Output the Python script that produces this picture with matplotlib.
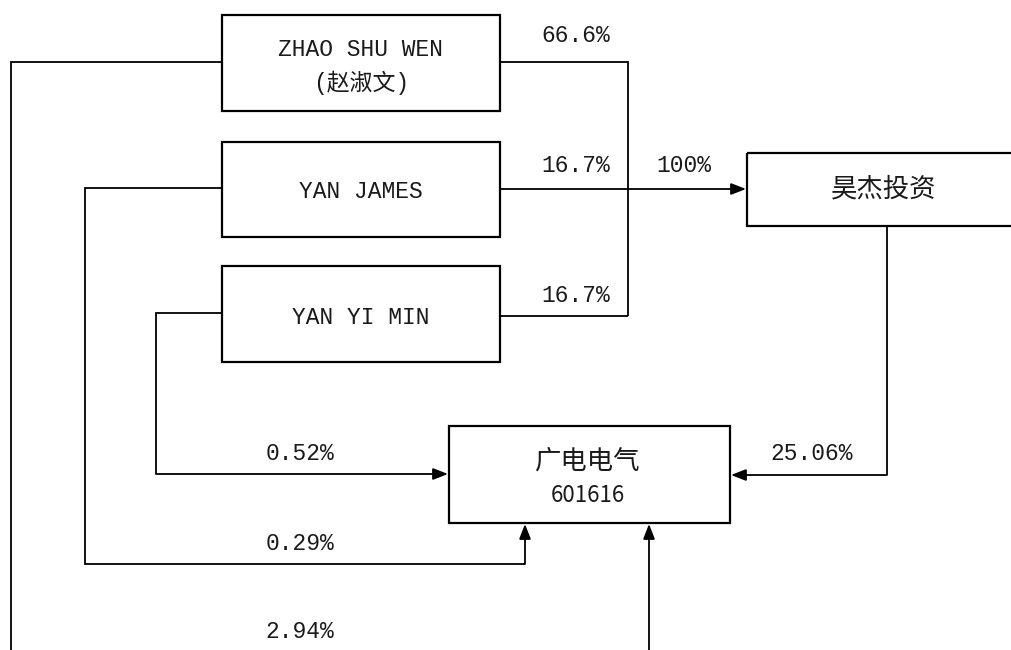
import matplotlib
matplotlib.use("Agg")
import matplotlib.pyplot as plt
from matplotlib.patches import Rectangle

# ---- data ----
shareholders = ["ZHAO SHU WEN\n(赵淑文)", "YAN JAMES", "YAN YI MIN"]
holding_company = "昊杰投资"
listed_company = "广电电气\n601616"
stake_in_holding = ["66.6%", "16.7%", "16.7%"]
holding_pct = "100%"
holding_in_listed = "25.06%"
direct_in_listed = ["2.94%", "0.29%", "0.52%"]

LAT = ["Liberation Mono", "Noto Sans CJK SC", "DejaVu Sans"]
CJK = ["Noto Sans CJK SC", "DejaVu Sans"]
TXT = "#1a1a1a"

fig = plt.figure(figsize=(10.12, 6.5), dpi=100)
ax = fig.add_axes([0, 0, 1, 1])
ax.set_xlim(0, 1012)
ax.set_ylim(650, 0)
ax.axis("off")

LW = 1.3

def box(x0, y0, x1, y1):
    ax.add_patch(Rectangle((x0, y0), x1 - x0, y1 - y0, fill=False,
                           edgecolor="black", linewidth=1.6, zorder=3))

def line(xs, ys):
    ax.plot(xs, ys, color="black", linewidth=LW, solid_joinstyle="miter",
            solid_capstyle="butt", zorder=2)

def arrow(x0, y0, x1, y1):
    ax.annotate("", xy=(x1, y1), xytext=(x0, y0),
                arrowprops=dict(arrowstyle="-|>,head_length=0.9,head_width=0.35",
                                color="black", lw=LW, shrinkA=0, shrinkB=0,
                                mutation_scale=10), zorder=4)

def label(x, y, s, size=16.5, fam=LAT, ha="center"):
    ax.text(x, y, s, ha=ha, va="center", fontsize=size, family=fam,
            color=TXT, zorder=5, linespacing=1.35)

# shareholder boxes
sh_boxes = [(222, 15, 500, 111), (222, 142, 500, 237), (222, 266, 500, 362)]
for (x0, y0, x1, y1) in sh_boxes:
    box(x0, y0, x1, y1)
name_lines = shareholders[0].split("\n")
label(361, 50, name_lines[0], size=16.5)
label(361, 83, name_lines[1], size=16.5)
label(361, 192, shareholders[1], size=16.5)
label(361, 318, shareholders[2], size=16.5)

# holding company box
box(747, 153, 1030, 226)
label(884, 189, holding_company, size=19, fam=CJK)

# listed company box
box(449, 426, 730, 523)
lc = listed_company.split("\n")
label(588, 461, lc[0], size=19, fam=CJK)
label(588, 495, lc[1], size=16, fam=CJK)

# lines shareholders -> holding company
line([500, 628, 628], [62, 62, 316])
line([500, 628], [316, 316])
arrow(500, 189, 746, 189)

label(576, 36, stake_in_holding[0])
label(576, 166, stake_in_holding[1])
label(576, 295, stake_in_holding[2])
label(684, 166, holding_pct)

# holding -> listed
line([887, 887], [226, 475])
arrow(887, 475, 731, 475)
label(812, 453, holding_in_listed)

# direct holdings
# ZHAO
line([222, 11, 11], [62, 62, 650])
label(300, 632, direct_in_listed[0])
arrow(649, 650, 649, 524)
# YAN JAMES
line([222, 85, 85, 525], [188, 188, 564, 564])
arrow(525, 564, 525, 524)
label(300, 543, direct_in_listed[1])
# YAN YI MIN
line([222, 156, 156], [313, 313, 474])
arrow(156, 474, 448, 474)
label(300, 453, direct_in_listed[2])

fig.savefig("out.png", dpi=100, facecolor="white")
